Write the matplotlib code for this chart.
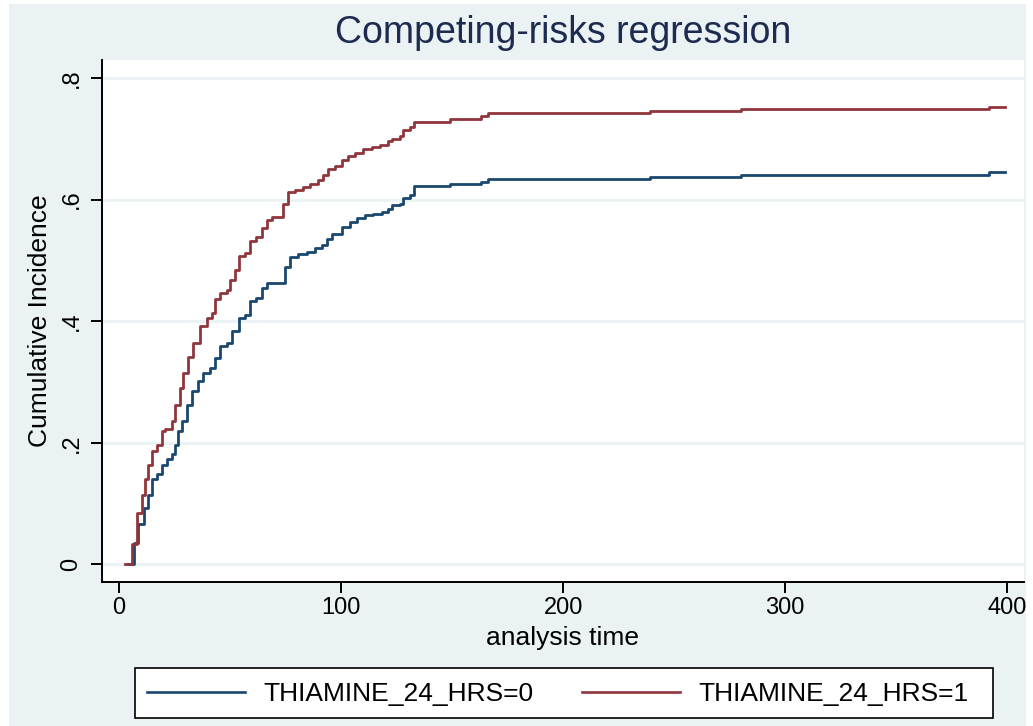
import matplotlib.pyplot as plt
from matplotlib.patches import Rectangle
from matplotlib.lines import Line2D

plt.rcParams['font.family'] = ['Liberation Sans', 'DejaVu Sans']

# cumulative incidence (step function)
time_0 = [4.2, 6.5, 8.7, 11, 13.2, 14.7, 16.9, 19.2, 21.5, 23.7, 25.2, 26.7, 28.2, 30.5,
          32.7, 35.7, 38, 41, 43.2, 45.5, 48.5, 50.7, 53.8, 56.8, 59, 61.5, 64.3, 66.5,
          74.8, 77, 80.8, 84.5, 88.3, 91.3, 93.5, 95.8, 100.3, 104, 107, 110.8, 114.5,
          118.3, 121.3, 122.8, 126.6, 128.1, 131.1, 133, 149, 163, 166, 239, 280, 392, 399]
cif_0 = [0, 0.036, 0.066, 0.093, 0.115, 0.14, 0.148, 0.164, 0.173, 0.181, 0.197, 0.219,
         0.236, 0.263, 0.285, 0.301, 0.315, 0.323, 0.34, 0.359, 0.364, 0.384, 0.405,
         0.411, 0.433, 0.438, 0.454, 0.463, 0.49, 0.506, 0.511, 0.514, 0.52, 0.525, 0.536,
         0.544, 0.555, 0.563, 0.569, 0.574, 0.577, 0.58, 0.585, 0.591, 0.593, 0.602,
         0.607, 0.622, 0.625, 0.629, 0.634, 0.637, 0.641, 0.645, 0.645]

time_1 = [2.7, 5.7, 7.9, 10.2, 11.7, 13.2, 14.7, 16.9, 19.2, 20.7, 23.7, 25.2, 27.5, 29,
          31.2, 33.5, 36.5, 39.5, 41.7, 43.2, 45.5, 48.5, 50, 52.2, 53.8, 56.8, 59, 61.5,
          64.3, 66.5, 68.8, 74, 76.3, 79.3, 83, 86, 89.8, 92, 94.3, 97.3, 100.3, 103.3,
          106.3, 110, 113.8, 117.5, 121.3, 122.8, 126.6, 128.1, 131.1, 133, 149, 163, 166,
          239, 280, 392, 399]
cif_1 = [0, 0.033, 0.085, 0.115, 0.14, 0.164, 0.186, 0.197, 0.219, 0.222, 0.236, 0.263,
         0.29, 0.315, 0.342, 0.364, 0.392, 0.405, 0.414, 0.436, 0.447, 0.452, 0.468, 0.485,
         0.507, 0.512, 0.532, 0.539, 0.553, 0.566, 0.572, 0.593, 0.613, 0.616, 0.621,
         0.626, 0.632, 0.64, 0.651, 0.656, 0.665, 0.672, 0.677, 0.683, 0.686, 0.69, 0.697,
         0.70, 0.705, 0.714, 0.72, 0.728, 0.733, 0.738, 0.743, 0.745, 0.749, 0.752, 0.752]

labels = ['THIAMINE_24_HRS=0', 'THIAMINE_24_HRS=1']
colors = ['#1a476f', '#90353b']
xticks = [0, 100, 200, 300, 400]
yticks = [0, 0.2, 0.4, 0.6, 0.8]
ytick_labels = ['0', '.2', '.4', '.6', '.8']

W, H = 1033, 726
bg = '#eaf2f3'
fig = plt.figure(figsize=(W / 100, H / 100), dpi=100, facecolor='white')
# stata style outer region
fig.patches.append(Rectangle((9 / W, 0), (1026 - 9) / W, (H - 4) / H,
                             transform=fig.transFigure, facecolor=bg, edgecolor='none', zorder=-5))

ax = fig.add_axes([102 / W, (H - 582) / H, (1024 - 102) / W, (582 - 60) / H])
ax.set_facecolor('white')

ax.plot(time_0, cif_0, drawstyle='steps-post', color=colors[0], lw=2.0)
ax.plot(time_1, cif_1, drawstyle='steps-post', color=colors[1], lw=2.0)

ax.set_xlim(-7.7, 407.6)
ax.set_ylim(-0.0288, 0.8296)
ax.set_xticks(xticks)
ax.set_yticks(yticks)
ax.set_yticklabels(ytick_labels, rotation=90, va='center')
ax.grid(axis='y', color=bg, lw=2)
ax.set_axisbelow(True)

for s in ['top', 'right']:
    ax.spines[s].set_visible(False)
for s in ['left', 'bottom']:
    ax.spines[s].set_linewidth(1.4)
    ax.spines[s].set_color('black')
ax.tick_params(axis='both', length=8, width=1.4, labelsize=17, colors='black')
ax.tick_params(axis='y', pad=6)
ax.tick_params(axis='x', pad=3)

ax.set_xlabel('analysis time', fontsize=19, labelpad=5)
ax.set_ylabel('Cumulative Incidence', fontsize=19, labelpad=6)
fig.text(563 / W, 1 - 33 / H, 'Competing-risks regression', fontsize=27,
         color='#1c2b4f', ha='center', va='center')

# legend box
fig.patches.append(Rectangle((135 / W, 1 - 718 / H), (993 - 135) / W, 50 / H,
                             transform=fig.transFigure, facecolor='white',
                             edgecolor='black', lw=1.2, zorder=1))
for i, x0 in enumerate([147, 582]):
    fig.lines.append(Line2D([x0 / W, (x0 + 98) / W], [1 - 692 / H, 1 - 692 / H],
                            transform=fig.transFigure, color=colors[i], lw=1.9, zorder=2))
    fig.text((x0 + 116) / W, 1 - 694 / H, labels[i], fontsize=19, ha='left',
             va='center', zorder=3)

fig.savefig('out.png', dpi=100, facecolor=fig.get_facecolor())
